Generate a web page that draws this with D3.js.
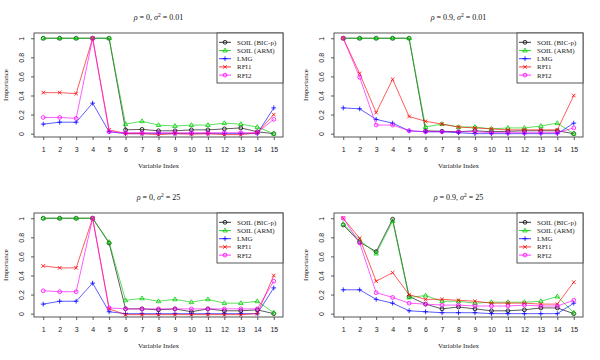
<!DOCTYPE html>
<html>
<head>
<meta charset="utf-8">
<script src="https://cdn.jsdelivr.net/npm/d3@7"></script>
<style>
    body { margin:0; background:#fff; }
    svg { display:block; font-family:"Liberation Serif","DejaVu Serif",serif; }
    .axis path { display:none; }
    .axis line { stroke:#333; stroke-width:0.8; }
    .axis text { font-size:7px; fill:#222; }
</style>
</head>
<body>
<div id="chart"></div>
<script>
// variable index 1..15
const varIndex = [1,2,3,4,5,6,7,8,9,10,11,12,13,14,15];
const yTicks = [0,0.2,0.4,0.6,0.8,1];
const seriesNames = ["SOIL (BIC-p)","SOIL (ARM)","LMG","RFI1","RFI2"];

// panel titles: rho and sigma^2
const rhoValues = ["0","0.9","0","0.9"];
const sigmaValues = ["0.01","0.01","25","25"];

// rho=0, sigma2=0.01
const soilBic1 = [1,1,1,1,1,0.04,0.045,0.03,0.03,0.04,0.04,0.05,0.06,0.02,0.0];
const soilArm1 = [1,1,1,1,1,0.10,0.13,0.09,0.08,0.09,0.09,0.11,0.10,0.07,0.0];
const lmg1     = [0.10,0.12,0.12,0.32,0.02,0,0,0,0,0,0,0,0,0,0.27];
const rfi1_1   = [0.43,0.43,0.42,1.0,0.04,0,0,-0.01,0,-0.005,0,-0.01,-0.01,0.01,0.20];
const rfi2_1   = [0.17,0.17,0.16,1.0,0.02,0.01,0.01,0.01,0.01,0.01,0.01,0.01,0.01,0.01,0.15];

// rho=0.9, sigma2=0.01
const soilBic2 = [1,1,1,1,1,0.03,0.025,0.02,0.03,0.02,0.025,0.03,0.03,0.03,0.0];
const soilArm2 = [1,1,1,1,1,0.07,0.10,0.07,0.07,0.05,0.06,0.06,0.08,0.11,0.0];
const lmg2     = [0.27,0.26,0.15,0.11,0.03,0.02,0.02,0.01,0.0,0.0,0.0,0.0,0.0,0.0,0.11];
const rfi1_2   = [1.0,0.63,0.22,0.57,0.18,0.13,0.10,0.07,0.06,0.05,0.04,0.04,0.04,0.04,0.40];
const rfi2_2   = [1.0,0.59,0.09,0.09,0.03,0.02,0.02,0.02,0.02,0.01,0.01,0.01,0.01,0.01,0.06];

// rho=0, sigma2=25
const soilBic3 = [1,1,1,1,0.74,0.05,0.05,0.04,0.05,0.02,0.05,0.03,0.03,0.04,0.0];
const soilArm3 = [1,1,1,1,0.75,0.14,0.16,0.13,0.15,0.12,0.15,0.11,0.11,0.13,0.01];
const lmg3     = [0.10,0.13,0.13,0.32,0.02,0,0,0,0,0,0,0,0,0,0.27];
const rfi1_3   = [0.50,0.48,0.48,1.0,0.05,-0.01,-0.01,-0.01,-0.01,-0.01,-0.01,-0.01,-0.01,0.0,0.40];
const rfi2_3   = [0.24,0.23,0.23,1.0,0.06,0.05,0.05,0.05,0.05,0.05,0.05,0.05,0.05,0.05,0.34];

// rho=0.9, sigma2=25
const soilBic4 = [0.93,0.75,0.65,0.99,0.18,0.10,0.05,0.07,0.05,0.03,0.03,0.04,0.06,0.06,0.0];
const soilArm4 = [0.94,0.77,0.63,0.97,0.17,0.19,0.13,0.13,0.11,0.12,0.12,0.12,0.13,0.18,0.01];
const lmg4     = [0.25,0.25,0.15,0.11,0.03,0.02,0.01,0.01,0.01,0.0,0.0,0.0,0.0,0.0,0.11];
const rfi1_4   = [1.0,0.79,0.34,0.43,0.20,0.15,0.15,0.14,0.13,0.11,0.11,0.11,0.10,0.10,0.33];
const rfi2_4   = [1.0,0.74,0.22,0.17,0.11,0.10,0.09,0.09,0.08,0.08,0.08,0.09,0.08,0.08,0.14];

const panelData = [
    [soilBic1,soilArm1,lmg1,rfi1_1,rfi2_1],
    [soilBic2,soilArm2,lmg2,rfi1_2,rfi2_2],
    [soilBic3,soilArm3,lmg3,rfi1_3,rfi2_3],
    [soilBic4,soilArm4,lmg4,rfi1_4,rfi2_4]
];

const colours = ["#000000","#00CD00","#0000FF","#FF0000","#FF00FF"];
const shapes = ["circle","triangle","plus","cross","circle"];

const panelW = 300, panelH = 180;
const plotDim = {left:34, right:283, top:33, bottom:137};

function drawMarker(g, shape, x, y, colour) {
    if (shape==="circle") {
        g.append("circle").attr("cx",x).attr("cy",y).attr("r",1.9)
            .attr("fill","none").attr("stroke",colour).attr("stroke-width",0.8)
    } else if (shape==="triangle") {
        const s=2.4
        g.append("path")
            .attr("d","M"+x+","+(y-s)+"L"+(x+s*0.95)+","+(y+s*0.6)+"L"+(x-s*0.95)+","+(y+s*0.6)+"Z")
            .attr("fill","none").attr("stroke",colour).attr("stroke-width",0.8)
    } else if (shape==="plus") {
        const s=2.4
        g.append("path")
            .attr("d","M"+(x-s)+","+y+"H"+(x+s)+"M"+x+","+(y-s)+"V"+(y+s))
            .attr("stroke",colour).attr("stroke-width",0.8)
    } else {
        const s=1.8
        g.append("path")
            .attr("d","M"+(x-s)+","+(y-s)+"L"+(x+s)+","+(y+s)+"M"+(x-s)+","+(y+s)+"L"+(x+s)+","+(y-s))
            .attr("stroke",colour).attr("stroke-width",0.8)
    }
}

function importancePanel() {
    let xScale = d3.scaleLinear().domain([0.44,15.56]).range([plotDim.left,plotDim.right]);
    let yScale = d3.scaleLinear().domain([-0.035,1.055]).range([plotDim.bottom,plotDim.top]);
    let rho = "0";
    let sigma = "0.01";

    function panel(parent, series) {
        const line = d3.line()
            .x((d,i)=> xScale(varIndex[i]))
            .y((d)=> yScale(d))

        series.forEach((values,s)=>{
            parent.append("path")
                .attr("d",line(values))
                .attr("fill","none")
                .attr("stroke",colours[s])
                .attr("stroke-width",0.75)
                .attr("stroke-opacity",0.85)
            values.forEach((v,i)=>{
                drawMarker(parent, shapes[s], xScale(varIndex[i]), yScale(v), colours[s])
            })
        })

        // frame
        parent.append("rect")
            .attr("x",plotDim.left).attr("y",plotDim.top)
            .attr("width",plotDim.right-plotDim.left)
            .attr("height",plotDim.bottom-plotDim.top)
            .attr("fill","none").attr("stroke","#444").attr("stroke-width",0.9)

        const xAxis = d3.axisBottom(xScale).tickValues(varIndex).tickSize(3).tickPadding(7).tickFormat(d3.format("d"))
        parent.append("g").attr("class","axis xAxis")
            .attr("transform","translate(0,"+(plotDim.bottom)+")")
            .call(xAxis)

        const yAxis = d3.axisLeft(yScale).tickValues(yTicks).tickSize(3).tickFormat((d)=> d3.format("")(d))
        const yLabel = parent.append("g").attr("class","axis yAxis")
            .attr("transform","translate("+plotDim.left+",0)")
            .call(yAxis)
        // R style: tick labels parallel to the axis
        yLabel.selectAll("text")
            .attr("x",0).attr("y",0).attr("dy",0)
            .attr("transform","translate(-10,0) rotate(-90)")
            .attr("text-anchor","middle")

        parent.append("text")
            .attr("x",(plotDim.left+plotDim.right)/2).attr("y",168)
            .attr("text-anchor","middle").attr("font-size",7).attr("fill","#222")
            .text("Variable Index")

        parent.append("text")
            .attr("transform","translate(8,"+((plotDim.top+plotDim.bottom)/2)+") rotate(-90)")
            .attr("text-anchor","middle").attr("font-size",7).attr("fill","#222")
            .text("Importance")

        const title = parent.append("text")
            .attr("x",(plotDim.left+plotDim.right)/2).attr("y",20)
            .attr("text-anchor","middle").attr("font-size",8).attr("fill","#111")
        title.append("tspan").attr("font-style","italic").text("ρ")
        title.append("tspan").text(" = "+rho+", ")
        title.append("tspan").attr("font-style","italic").text("σ")
        title.append("tspan").attr("font-size",5.5).attr("dy",-3.5).text("2")
        title.append("tspan").attr("dy",3.5).text(" = "+sigma)

        // legend
        const lg = parent.append("g")
        lg.append("rect").attr("x",217).attr("y",plotDim.top)
            .attr("width",plotDim.right-217).attr("height",50)
            .attr("fill","#fff").attr("stroke","#444").attr("stroke-width",0.9)
        seriesNames.forEach((name,s)=>{
            const yy = 42.3 + s*8.2
            lg.append("line").attr("x1",219).attr("x2",231).attr("y1",yy).attr("y2",yy)
                .attr("stroke",colours[s]).attr("stroke-width",0.8)
            drawMarker(lg, shapes[s], 225, yy, colours[s])
            lg.append("text").attr("x",237).attr("y",yy+2.4)
                .attr("font-size",7).attr("fill","#222").text(name)
        })
    }

    panel.rho = (d)=>{
        rho = d;
        return panel;
    }
    panel.sigma = (d)=>{
        sigma = d;
        return panel;
    }
    return panel
}

const svg = d3.select("#chart").append("svg")
    .attr("width",600).attr("height",360)

panelData.forEach((series,p)=>{
    const g = svg.append("g")
        .attr("transform","translate("+((p%2)*panelW)+","+(Math.floor(p/2)*panelH)+")")
    const chart = importancePanel().rho(rhoValues[p]).sigma(sigmaValues[p])
    chart(g, series)
})
</script>
</body>
</html>
